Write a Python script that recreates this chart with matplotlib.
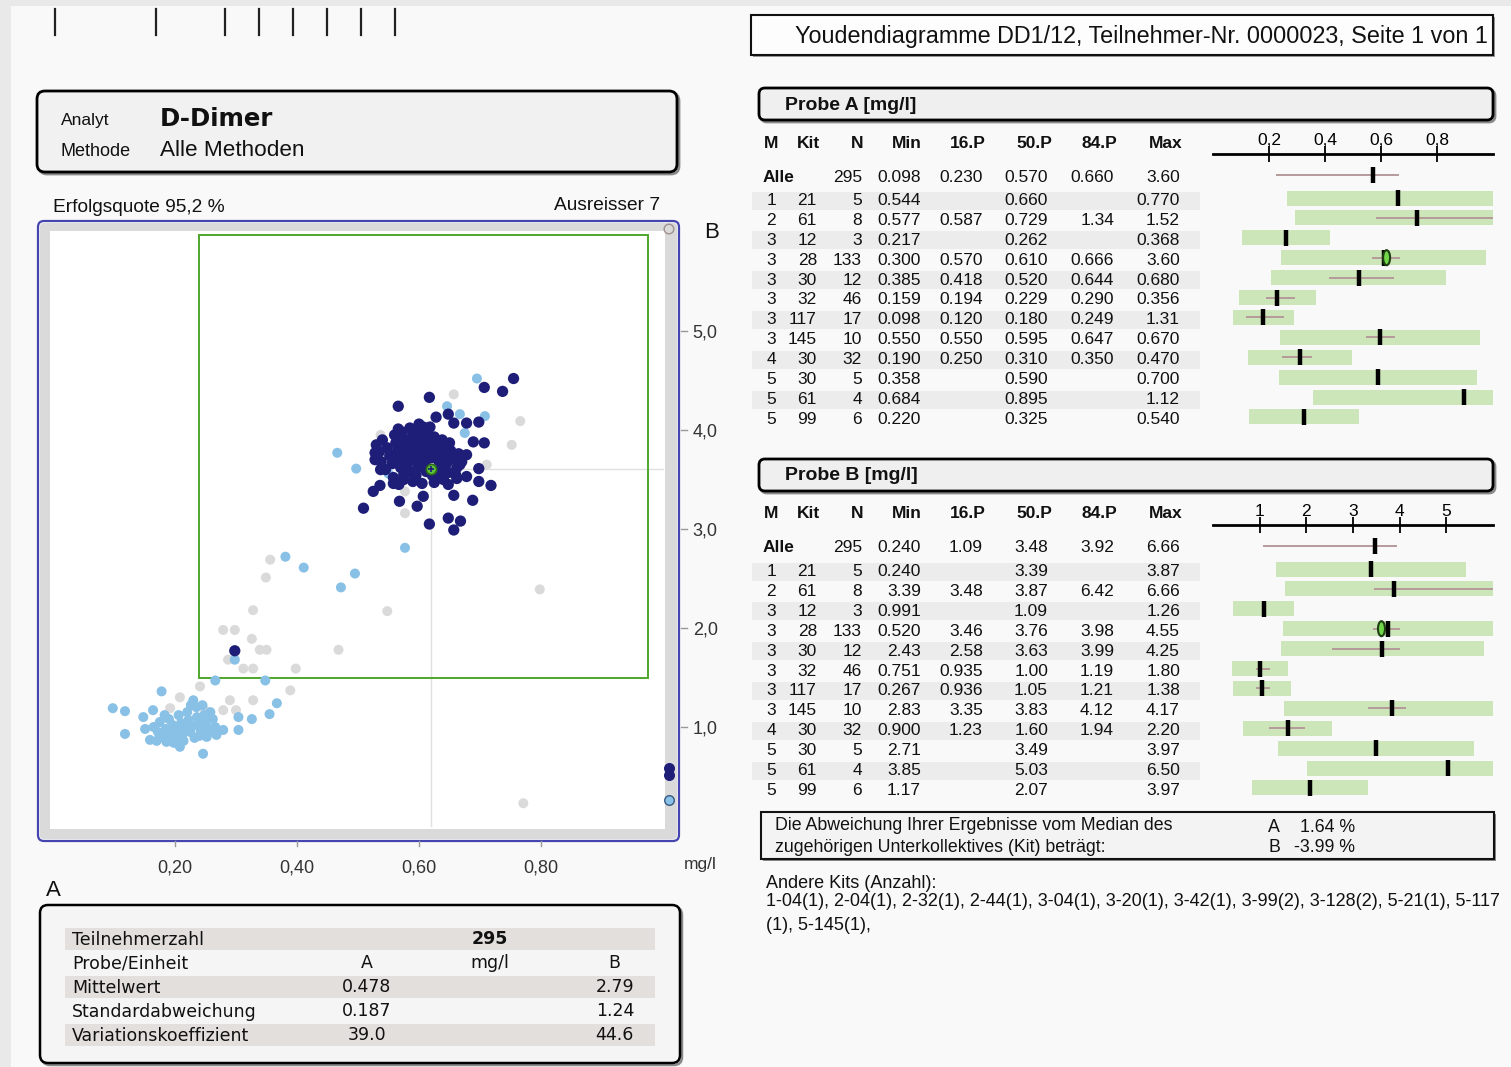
import numpy as np
import matplotlib
matplotlib.use("Agg")
import matplotlib.pyplot as plt
from matplotlib.patches import FancyBboxPatch, Rectangle, Ellipse

# ---------------- data ----------------
analyte = "D-Dimer"
method = "Alle Methoden"
success_rate = "95,2"
n_outliers = 7

# Youden plot: sample A (x) vs sample B (y), mg/l
own_kit_a = [0.755, 0.707, 0.737, 0.617, 0.566, 0.648, 0.628, 0.657, 0.678, 0.698, 0.566, 0.607,
             0.689, 0.707, 0.678, 0.528, 0.528, 0.537, 0.525, 0.536, 0.558, 0.509, 0.568, 0.597,
             0.607, 0.617, 0.648, 0.668, 0.657, 0.688, 0.718, 0.698, 0.698, 0.678, 0.662, 0.657,
             0.667, 0.298,
             0.540, 0.548, 0.552, 0.556, 0.560, 0.562, 0.565, 0.568, 0.570, 0.572, 0.575, 0.578,
             0.580, 0.582, 0.585, 0.588, 0.590, 0.592, 0.595, 0.598, 0.600, 0.602, 0.605, 0.608,
             0.610, 0.612, 0.615, 0.618, 0.620, 0.622, 0.625, 0.628, 0.630, 0.632, 0.635, 0.638,
             0.640, 0.642, 0.645, 0.648, 0.650, 0.652, 0.655, 0.545, 0.535, 0.530, 0.538, 0.558,
             0.575, 0.590, 0.605, 0.625, 0.640, 0.660, 0.662, 0.670, 0.665, 0.600, 0.585, 0.618,
             0.575, 0.595, 0.612, 0.632, 0.648, 0.567]
own_kit_b = [4.52, 4.43, 4.39, 4.33, 4.24, 4.16, 4.13, 4.07, 4.07, 4.08, 4.01, 4.03,
             3.88, 3.87, 3.75, 3.77, 3.70, 3.60, 3.38, 3.44, 3.46, 3.21, 3.28, 3.23,
             3.33, 3.05, 3.11, 3.08, 2.99, 3.29, 3.44, 3.48, 3.61, 3.53, 3.51, 3.34,
             3.65, 1.77,
             3.90, 3.82, 3.74, 3.66, 3.95, 3.87, 3.79, 3.71, 3.62, 3.98, 3.90, 3.83,
             3.75, 3.67, 3.58, 3.93, 3.86, 3.78, 3.70, 3.62, 4.00, 3.92, 3.84, 3.76,
             3.68, 3.96, 3.88, 3.80, 3.72, 3.54, 3.93, 3.85, 3.77, 3.69, 3.60, 3.90,
             3.82, 3.74, 3.66, 3.57, 3.87, 3.79, 3.71, 3.60, 3.78, 3.85, 3.68, 3.52,
             3.50, 3.48, 3.46, 3.47, 3.50, 3.55, 3.62, 3.68, 3.76, 4.06, 4.02, 4.03,
             3.55, 3.54, 3.58, 3.52, 3.45, 3.45]

own_method_a = [0.695, 0.646, 0.667, 0.708, 0.675, 0.466, 0.497, 0.550, 0.572, 0.577,
                0.381, 0.411, 0.495, 0.472, 0.298, 0.266, 0.348, 0.178, 0.367, 0.355, 0.326,
                0.098, 0.118, 0.118, 0.148, 0.151, 0.164, 0.246, 0.304, 0.304, 0.279, 0.257,
                0.230, 0.235, 0.159, 0.186,
                0.165, 0.172, 0.175, 0.180, 0.185, 0.190, 0.192, 0.196, 0.200, 0.203, 0.206,
                0.210, 0.212, 0.216, 0.220, 0.222, 0.225, 0.228, 0.232, 0.236, 0.238, 0.242,
                0.245, 0.248, 0.250, 0.254, 0.258, 0.262, 0.170, 0.183, 0.198, 0.214, 0.240,
                0.226, 0.252, 0.266, 0.268, 0.208]
own_method_b = [4.52, 4.24, 4.16, 4.14, 3.97, 3.77, 3.61, 3.56, 3.71, 2.81,
                2.72, 2.61, 2.55, 2.41, 1.68, 1.47, 1.47, 1.36, 1.24, 1.13, 1.08,
                1.19, 1.16, 0.93, 1.10, 0.98, 1.17, 0.73, 1.10, 0.97, 0.97, 0.95,
                1.27, 1.20, 0.87, 0.85,
                1.00, 0.95, 1.05, 0.90, 0.98, 1.08, 0.93, 1.02, 0.88, 0.97, 1.12,
                1.04, 0.92, 0.99, 1.15, 1.07, 0.95, 1.01, 0.89, 1.10, 1.03, 0.97,
                1.22, 1.12, 1.05, 0.99, 1.15, 1.08, 0.86, 1.12, 0.84, 0.86, 0.91,
                1.22, 0.90, 1.00, 0.92, 0.80]

other_a = [0.657, 0.766, 0.752, 0.537, 0.711, 0.577, 0.577, 0.356, 0.349, 0.328, 0.279, 0.298,
           0.326, 0.339, 0.350, 0.468, 0.287, 0.312, 0.328, 0.398, 0.389, 0.241, 0.208, 0.290,
           0.328, 0.279, 0.300, 0.249, 0.192, 0.798, 0.771, 0.548]
other_b = [4.36, 4.09, 3.85, 3.95, 3.65, 3.38, 3.16, 2.69, 2.51, 2.18, 1.98, 1.98,
           1.89, 1.78, 1.78, 1.78, 1.68, 1.59, 1.59, 1.59, 1.37, 1.41, 1.30, 1.27,
           1.27, 1.17, 1.17, 1.17, 1.19, 2.39, 0.23, 2.17]

# results outside the plotted range (shown on the frame edge)
outlier_a = [1.52, 1.31, 3.60, 1.12]
outlier_b = [0.59, 0.52, 0.26, 6.66]
outlier_group = ["kit", "kit", "method", "other"]

# own result and acceptance window
own_a, own_b = 0.620, 3.61
limit_a = (0.24, 0.975)
limit_b = (1.50, 5.97)

# Kit statistics
kit_m = ["1", "2", "3", "3", "3", "3", "3", "3", "4", "5", "5", "5"]
kit_id = ["21", "61", "12", "28", "30", "32", "117", "145", "30", "30", "61", "99"]
kit_n = [5, 8, 3, 133, 12, 46, 17, 10, 32, 5, 4, 6]
own_kit_index = 3
nan = np.nan

all_a = dict(n=295, mn=0.098, p16=0.230, p50=0.570, p84=0.660, mx=3.60)
a_min = [0.544, 0.577, 0.217, 0.300, 0.385, 0.159, 0.098, 0.550, 0.190, 0.358, 0.684, 0.220]
a_p16 = [nan, 0.587, nan, 0.570, 0.418, 0.194, 0.120, 0.550, 0.250, nan, nan, nan]
a_p50 = [0.660, 0.729, 0.262, 0.610, 0.520, 0.229, 0.180, 0.595, 0.310, 0.590, 0.895, 0.325]
a_p84 = [nan, 1.34, nan, 0.666, 0.644, 0.290, 0.249, 0.647, 0.350, nan, nan, nan]
a_max = [0.770, 1.52, 0.368, 3.60, 0.680, 0.356, 1.31, 0.670, 0.470, 0.700, 1.12, 0.540]

all_b = dict(n=295, mn=0.240, p16=1.09, p50=3.48, p84=3.92, mx=6.66)
b_min = [0.240, 3.39, 0.991, 0.520, 2.43, 0.751, 0.267, 2.83, 0.900, 2.71, 3.85, 1.17]
b_p16 = [nan, 3.48, nan, 3.46, 2.58, 0.935, 0.936, 3.35, 1.23, nan, nan, nan]
b_p50 = [3.39, 3.87, 1.09, 3.76, 3.63, 1.00, 1.05, 3.83, 1.60, 3.49, 5.03, 2.07]
b_p84 = [nan, 6.42, nan, 3.98, 3.99, 1.19, 1.21, 4.12, 1.94, nan, nan, nan]
b_max = [3.87, 6.66, 1.26, 4.55, 4.25, 1.80, 1.38, 4.17, 2.20, 3.97, 6.50, 3.97]

tolerance = 0.60  # relative window around the kit median

# overall statistics
stat_labels = ["Mittelwert", "Standardabweichung", "Variationskoeffizient"]
stat_a = ["0.478", "0.187", "39.0"]
stat_b = ["2.79", "1.24", "44.6"]
participants = 295

other_kits = ("1-04(1), 2-04(1), 2-32(1), 2-44(1), 3-04(1), 3-20(1), 3-42(1), 3-99(2), "
              "3-128(2), 5-21(1), 5-117")
other_kits2 = "(1), 5-145(1),"

# ---------------- figure ----------------
W, H = 1511, 1067
fig = plt.figure(figsize=(W / 100, H / 100), dpi=100)
fig.patch.set_facecolor("#e9e9e9")

SANS = ["Liberation Sans", "DejaVu Sans"]
VERD = ["DejaVu Sans"]
NAVY = "#1e1e78"
LBLUE = "#88c0e6"
GREY = "#dadada"


def frac(x0, y0, x1, y1):
    return [x0 / W, 1 - y1 / H, (x1 - x0) / W, (y1 - y0) / H]


bg = fig.add_axes([0, 0, 1, 1])
bg.set_xlim(0, W)
bg.set_ylim(H, 0)
bg.axis("off")
bg.add_patch(Rectangle((11, 6), W, H, fc="#f9f9f9", ec="none", zorder=0))


def rbox(x0, y0, x1, y1, fc="none", ec="black", lw=1.8, r=6, z=1, shadow=False):
    if shadow:
        bg.add_patch(FancyBboxPatch((x0 + 2, y0 + 2), x1 - x0, y1 - y0,
                                    boxstyle=f"round,pad=0,rounding_size={r}",
                                    fc="none", ec="#8a8a8a", lw=lw, zorder=z - 0.1))
    bg.add_patch(FancyBboxPatch((x0, y0), x1 - x0, y1 - y0,
                                boxstyle=f"round,pad=0,rounding_size={r}",
                                fc=fc, ec=ec, lw=lw, zorder=z))


def txt(x, y, s, size=12, ha="left", va="center", weight="normal", family=SANS, color="#111111"):
    bg.text(x, y, s, fontsize=size, ha=ha, va=va, fontweight=weight, family=family,
            color=color, zorder=5)


# page marks
for x in [55, 156, 225, 259, 293, 327, 361, 395]:
    bg.plot([x, x], [9, 35], color="#222222", lw=1.6, zorder=2)

# analyte box
rbox(37, 91, 677, 172, fc="#f1f1f1", lw=2.0, r=8, shadow=True)
txt(61, 121, "Analyt", size=12.5)
txt(160, 119, analyte, size=17.6, weight="bold", family=VERD)
txt(61, 152, "Methode", size=13)
txt(160, 151, method, size=16.2)

txt(53, 208, f"Erfolgsquote {success_rate} %", size=13.8)
txt(660, 206, f"Ausreisser {n_outliers}", size=13.8, ha="right")

# Youden plot frame
rbox(40, 223, 677, 839, fc="#dadada", ec="none", lw=0, r=4, z=1)
bg.add_patch(Rectangle((50, 231), 615, 598, fc="white", ec="none", zorder=1.5))
rbox(38, 221, 679, 841, fc="none", ec="#4545b0", lw=1.6, r=6, z=3)
txt(712, 233, "B", size=16, ha="center")
txt(53, 890, "A", size=16, ha="center")
txt(700, 864, "mg/l", size=12.5, ha="center", color="#333333")

ax = fig.add_axes(frac(50, 231, 665, 829))
ax.set_xlim(-3 / 610, 612 / 610)
ax.set_ylim(-3 / 99, 595 / 99)
ax.patch.set_alpha(0)
for s in ax.spines.values():
    s.set_visible(False)
xt = [0.2, 0.4, 0.6, 0.8]
ax.set_xticks(xt, [f"{v:.2f}".replace(".", ",") for v in xt])
yt = [1, 2, 3, 4, 5]
ax.yaxis.tick_right()
ax.set_yticks(yt, [f"{v:.1f}".replace(".", ",") for v in yt])
ax.tick_params(axis="x", length=0, pad=22, labelsize=13, labelcolor="#333333")
ax.tick_params(axis="y", length=0, pad=20, labelsize=13, labelcolor="#333333")
for lab in ax.get_xticklabels() + ax.get_yticklabels():
    lab.set_family(SANS)
xtr = ax.get_xaxis_transform()
ytr = ax.get_yaxis_transform()
for v in xt:
    ax.plot([v, v], [-0.020, -0.029], transform=xtr, color="#999999", lw=1, clip_on=False)
for v in yt:
    ax.plot([1.026, 1.035], [v, v], transform=ytr, color="#999999", lw=1, clip_on=False)

ax.add_patch(Rectangle((limit_a[0], limit_b[0]), limit_a[1] - limit_a[0], limit_b[1] - limit_b[0],
                       fill=False, ec="#4fa62c", lw=1.4, zorder=2))
ax.plot([own_a, own_a], [0, own_b], color="#e0e0e0", lw=1.0, zorder=1)
ax.plot([own_a, 1.0], [own_b, own_b], color="#e0e0e0", lw=1.0, zorder=1)

ax.scatter(other_a, other_b, s=52, c=GREY, edgecolors="none", zorder=3)
ax.scatter(own_method_a, own_method_b, s=52, c=LBLUE, edgecolors="none", zorder=4)
ax.scatter(own_kit_a, own_kit_b, s=66, c=NAVY, edgecolors="none", zorder=5)
ax.scatter([own_a], [own_b], s=55, c="#5cc23a", edgecolors="#2c6a18", lw=1.2, zorder=6)
ax.scatter([own_a], [own_b], s=14, c=NAVY, marker="+", lw=1.2, zorder=7)

edge_a = np.minimum(outlier_a, 1.0098)
edge_b = np.minimum(outlier_b, 6.03)
ofc = {"kit": NAVY, "method": LBLUE, "other": "none"}
oec = {"kit": NAVY, "method": "#3a5a80", "other": "#a09090"}
for xa, yb, g in zip(edge_a, edge_b, outlier_group):
    ax.scatter([xa], [yb], s=48, c=ofc[g], edgecolors=oec[g], lw=1.0, zorder=6, clip_on=False)

# overall statistics box
rbox(40, 905, 680, 1063, fc="#f5f5f5", lw=1.8, r=8, shadow=True)
for yy in [939, 987, 1035]:
    bg.add_patch(Rectangle((65, yy - 11), 590, 22, fc="#e2dfdc", ec="none", zorder=2))
txt(72, 940, "Teilnehmerzahl", size=12.5, family=VERD)
txt(490, 939, str(participants), size=12.5, family=VERD, weight="bold", ha="center")
txt(72, 964, "Probe/Einheit", size=12.5, family=VERD)
txt(367, 963, "A", size=12.5, family=VERD, ha="center")
txt(490, 963, "mg/l", size=12.5, family=VERD, ha="center")
txt(614, 963, "B", size=12.5, family=VERD, ha="center")
for i, (lab, va_, vb_) in enumerate(zip(stat_labels, stat_a, stat_b)):
    yy = 988 + 24 * i
    txt(72, yy, lab, size=12.5, family=VERD)
    txt(367, yy - 1, va_, size=12.5, family=VERD, ha="center")
    txt(634, yy - 1, vb_, size=12.5, family=VERD, ha="right")

# title box
bg.add_patch(Rectangle((753, 17), 742, 40, fc="#9a9a9a", ec="none", zorder=0.9))
bg.add_patch(Rectangle((751, 15), 742, 40, fc="#fdfdfd", ec="#111111", lw=1.5, zorder=1))
txt(795, 36, "Youdendiagramme DD1/12, Teilnehmer-Nr. 0000023, Seite 1 von 1", size=16.8)


def fmt(v):
    if v is None or np.isnan(v):
        return ""
    return f"{v:.3f}" if v < 1 else f"{v:.2f}"


def kit_panel(y0, title, allrow, mins, p16, p50, p84, maxs, own_value, xmax, ticks, ticklabels):
    rbox(759, y0, 1493, y0 + 32, fc="#efefef", lw=2.0, r=6, shadow=True)
    txt(785, y0 + 17, title, size=14, weight="bold")
    hy = y0 + 55
    heads = [("M", 771, "center"), ("Kit", 809, "center"), ("N", 863, "right"),
             ("Min", 922, "right"), ("16.P", 986, "right"), ("50.P", 1052, "right"),
             ("84.P", 1117, "right"), ("Max", 1182, "right")]
    for s, x, ha in heads:
        txt(x, hy, s, size=12.5, weight="bold", ha=ha)
    cols = [921, 983, 1048, 1114, 1180]
    ay = y0 + 89
    txt(763, ay, "Alle", size=12.5, weight="bold")
    txt(862, ay, str(allrow["n"]), size=12.5, ha="right")
    for x, k in zip(cols, ["mn", "p16", "p50", "p84", "mx"]):
        txt(x, ay, fmt(allrow[k]), size=12.5, ha="right")
    rows_y = [y0 + 112.5 + 19.9 * i for i in range(len(kit_m))]
    for i, yy in enumerate(rows_y):
        if i % 2 == 0:
            bg.add_patch(Rectangle((752, yy - 9), 448, 18, fc="#ececec", ec="none", zorder=0.5))
        txt(771, yy, kit_m[i], size=12.5, ha="center")
        txt(817, yy, kit_id[i], size=12.5, ha="right")
        txt(862, yy, str(kit_n[i]), size=12.5, ha="right")
        for x, v in zip(cols, [mins[i], p16[i], p50[i], p84[i], maxs[i]]):
            txt(x, yy, fmt(v), size=12.5, ha="right")

    # range chart
    top, bot = y0 + 40, y0 + 345
    rx = fig.add_axes(frac(1213, top, 1493, bot))
    rx.set_xlim(0, xmax)
    rx.set_ylim(bot, top)
    rx.patch.set_alpha(0)
    for k in ["left", "right", "bottom"]:
        rx.spines[k].set_visible(False)
    rx.spines["top"].set_position(("data", y0 + 66))
    rx.spines["top"].set_linewidth(2.0)
    rx.xaxis.set_ticks_position("top")
    rx.set_xticks(ticks, ticklabels)
    rx.set_yticks([])
    rx.tick_params(axis="x", direction="inout", length=11, width=1.3, pad=-1, labelsize=12.5)
    for lab in rx.get_xticklabels():
        lab.set_family(SANS)
    by = [y - 2.5 for y in rows_y]
    ay2 = ay - 2.5
    rx.plot([allrow["p16"], min(allrow["p84"], xmax)], [ay2, ay2], color="#b59a9a", lw=1.4,
            zorder=3)
    rx.plot([allrow["p50"]], [ay2], marker="|", ms=12, mew=3.2, color="black", zorder=4)
    for i, y in enumerate(by):
        lo = p50[i] * (1 - tolerance)
        hi = min(p50[i] * (1 + tolerance), xmax)
        rx.barh(y, hi - lo, left=lo, height=15, color="#cce6ba", zorder=2)
        if not np.isnan(p16[i]):
            rx.plot([p16[i], min(p84[i], xmax)], [y, y], color="#b59a9a", lw=1.4, zorder=3)
        rx.plot([p50[i]], [y], marker="|", ms=12, mew=3.2, color="black", zorder=4)
    yo = by[own_kit_index]
    rx.add_patch(Ellipse((own_value, yo), width=7 / 280 * xmax, height=15,
                         fc="#72d64a", ec="#1f3f12", lw=1.5, zorder=5))


kit_panel(88, "Probe A [mg/l]", all_a, a_min, a_p16, a_p50, a_p84, a_max, own_a, 1.0,
          [0.2, 0.4, 0.6, 0.8], ["0,2", "0,4", "0,6", "0,8"])
kit_panel(459, "Probe B [mg/l]", all_b, b_min, b_p16, b_p50, b_p84, b_max, own_b, 6.0,
          [1, 2, 3, 4, 5], ["1", "2", "3", "4", "5"])

# deviation from kit median
dev_a = (own_a - a_p50[own_kit_index]) / a_p50[own_kit_index] * 100
dev_b = (own_b - b_p50[own_kit_index]) / b_p50[own_kit_index] * 100
bg.add_patch(Rectangle((763, 814), 733, 47, fc="#8a8a8a", ec="none", zorder=0.9))
bg.add_patch(Rectangle((761, 812), 733, 47, fc="#f3f3f3", ec="#111111", lw=1.5, zorder=1))
txt(775, 825, "Die Abweichung Ihrer Ergebnisse vom Median des", size=12.8)
txt(775, 847, "zugehörigen Unterkollektives (Kit) beträgt:", size=12.8)
txt(1268, 828, "A", size=12.8)
txt(1300, 828, f"{dev_a:.2f} %", size=12.8)
txt(1268, 848, "B", size=12.8)
txt(1294, 848, f"{dev_b:.2f} %", size=12.8)

txt(766, 884, "Andere Kits (Anzahl):", size=13)
txt(766, 902, other_kits, size=13)
txt(766, 926, other_kits2, size=13)

fig.savefig("out.png", dpi=100, facecolor=fig.get_facecolor())
